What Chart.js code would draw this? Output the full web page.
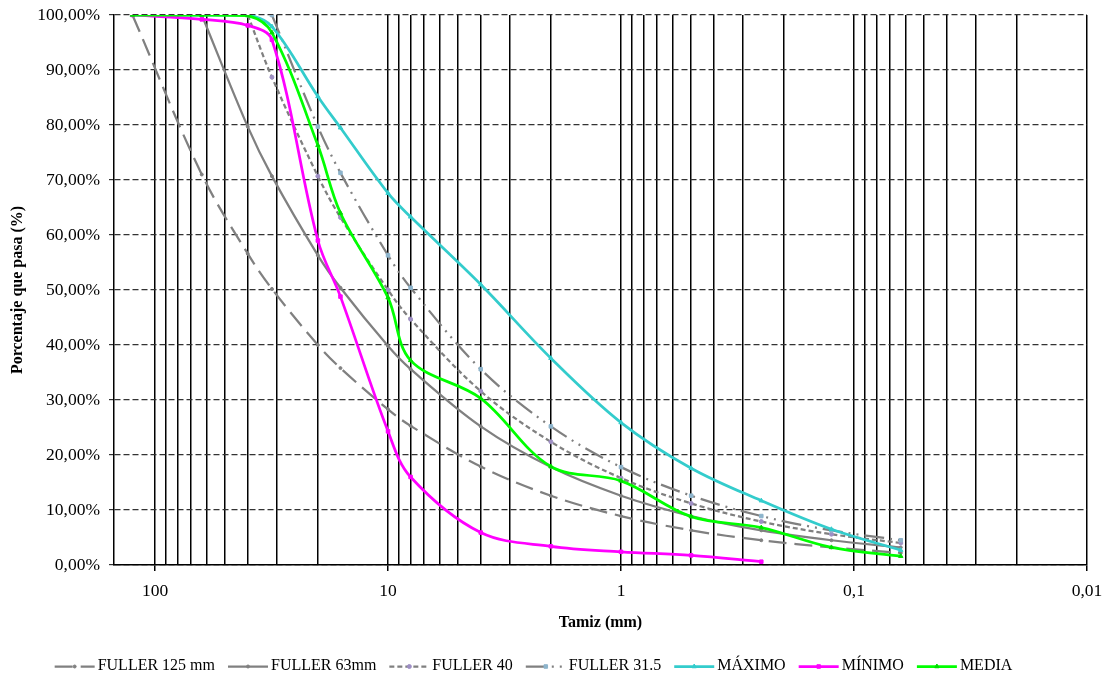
<!DOCTYPE html>
<html>
<head>
<meta charset="utf-8">
<script src="https://cdn.jsdelivr.net/npm/chart.js@4.4.1/dist/chart.umd.min.js"></script>
<style>
html,body{margin:0;padding:0;background:#fff;}
#wrap{width:1110px;height:680px;}
</style>
</head>
<body>
<div id="wrap"><canvas id="c" width="1110" height="680"></canvas></div>
<script>
// ---- data ----
const sieves     = [125, 63, 40, 31.5, 20, 16, 10, 8, 4, 2, 1, 0.5, 0.25, 0.125, 0.063];
const fuller125  = [100, 71.0, 56.6, 50.2, 40.0, 35.8, 28.3, 25.3, 17.9, 12.6, 8.9, 6.3, 4.5, 3.2, 2.2];
const fuller63   = [null, 100, 79.7, 70.7, 56.3, 50.4, 39.8, 35.6, 25.2, 17.8, 12.6, 8.9, 6.3, 4.5, 3.2];
const fuller40   = [null, null, 100, 88.7, 70.7, 63.2, 50.0, 44.7, 31.6, 22.4, 15.8, 11.2, 7.9, 5.6, 4.0];
const fuller315  = [null, null, null, 100, 79.7, 71.3, 56.3, 50.4, 35.6, 25.2, 17.8, 12.6, 8.9, 6.3, 4.5];
const maximo     = [100, 100, 100, 97.9, 85.2, 79.5, 67.6, 63.3, 51.0, 37.6, 25.9, 17.6, 11.7, 6.5, 2.7];
const minimo     = [100, 99.2, 98.1, 95.5, 59.0, 48.8, 24.3, 16.0, 5.9, 3.4, 2.4, 1.75, 0.6, null, null];
const media      = [100, 100, 99.9, 96.8, 76.3, 64.0, 48.6, 37.2, 30.3, 17.9, 15.3, 8.8, 6.8, 3.2, 1.6];

const seriesNames = ['FULLER 125 mm', 'FULLER 63mm', 'FULLER 40', 'FULLER 31.5', 'MÁXIMO', 'MÍNIMO', 'MEDIA'];

// x grid lines (log grid at every sieve-style value) and decade tick labels
const xGridValues   = [100, 90, 80, 70, 60, 50, 40, 30, 20, 10, 9, 8, 7, 6, 5, 4, 3, 2, 1,
                       0.9, 0.8, 0.7, 0.6, 0.5, 0.4, 0.3, 0.2, 0.1,
                       0.09, 0.08, 0.07, 0.06, 0.05, 0.04, 0.03, 0.02, 0.01];
const xDecadeValues = [100, 10, 1, 0.1, 0.01];
const xTickLabels   = ['100', '10', '1', '0,1', '0,01'];

const FONT = "'Liberation Serif', 'Times New Roman', serif";

function toPoints(vals) {
  const out = [];
  vals.forEach((v, i) => { if (v !== null) out.push({x: sieves[i], y: v}); });
  return out;
}
function decadeIndex(v) {
  return xDecadeValues.findIndex(d => Math.abs(d - v) < 1e-9 * Math.max(1, d));
}

const GRAY = '#808080';
const styles = [
  {data: fuller125, color: GRAY, width: 2.25, dash: [18, 8], ps: 'circle', pr: 1.5, pc: GRAY, order: 7},
  {data: fuller63,  color: GRAY, width: 2.25, dash: [], ps: 'circle', pr: 1.5, pc: GRAY, order: 6},
  {data: fuller40,  color: GRAY, width: 2.25, dash: [5, 3], ps: 'circle', pr: 2, pc: '#9E8FC4', order: 5},
  {data: fuller315, color: GRAY, width: 2.25, dash: [20, 6, 2, 6, 2, 6], ps: 'rect', pr: 2.5, pc: '#8DB4CC', order: 4},
  {data: maximo,    color: '#33CCCC', width: 2.75, dash: [], ps: 'triangle', pr: 2.5, pc: '#33CCCC', order: 3},
  {data: minimo,    color: '#FF00FF', width: 2.75, dash: [], ps: 'rect', pr: 2.5, pc: '#FF00FF', order: 2},
  {data: media,     color: '#00FF00', width: 2.75, dash: [], ps: 'triangle', pr: 2.5, pc: '#00DD00', order: 1}
];

const datasets = styles.map((s, i) => ({
  label: seriesNames[i],
  data: toPoints(s.data),
  borderColor: s.color,
  backgroundColor: s.color,
  borderWidth: s.width,
  borderDash: s.dash,
  pointStyle: s.ps,
  pointRadius: s.pr,
  pointBackgroundColor: s.pc,
  pointBorderColor: s.pc,
  pointBorderWidth: 1,
  pointHoverRadius: s.pr,
  tension: 0.35,
  fill: false,
  order: s.order
}));

// draws the legend line samples (with dash pattern) and the marker in the middle
const LEG_LINE = 40;
const legendMarkers = {
  id: 'legendMarkers',
  afterDraw(chart) {
    const lg = chart.legend;
    if (!lg || !lg.legendHitBoxes) return;
    const ctx = chart.ctx;
    lg.legendItems.forEach((item, i) => {
      const hb = lg.legendHitBoxes[i];
      const ds = chart.data.datasets[item.datasetIndex];
      const x0 = hb.left;
      const cy = Math.round(hb.top + hb.height / 2) + 0.5;
      ctx.save();
      ctx.strokeStyle = ds.borderColor;
      ctx.lineWidth = ds.borderWidth;
      ctx.setLineDash(ds.borderDash || []);
      ctx.beginPath();
      ctx.moveTo(x0, cy);
      ctx.lineTo(x0 + LEG_LINE, cy);
      ctx.stroke();
      ctx.setLineDash([]);
      ctx.fillStyle = ds.pointBackgroundColor;
      ctx.strokeStyle = ds.pointBorderColor;
      ctx.lineWidth = 1;
      Chart.helpers.drawPoint(ctx, {pointStyle: ds.pointStyle, radius: ds.pointRadius, rotation: 0, borderWidth: 1}, x0 + LEG_LINE / 2, cy);
      ctx.restore();
    });
  }
};

new Chart(document.getElementById('c'), {
  type: 'line',
  data: {datasets},
  plugins: [legendMarkers],
  options: {
    responsive: false,
    animation: false,
    devicePixelRatio: 1,
    layout: {padding: {top: 15, right: 23, left: -20, bottom: -4}},
    plugins: {
      tooltip: {enabled: false},
      legend: {
        position: 'bottom',
        labels: {
          usePointStyle: true,
          pointStyle: 'line',
          pointStyleWidth: 35,
          padding: 13,
          color: '#000',
          font: {family: FONT, size: 16},
          sort: (a, b) => a.datasetIndex - b.datasetIndex,
          generateLabels: (chart) => {
            const items = Chart.defaults.plugins.legend.labels.generateLabels(chart);
            items.forEach(it => { it.strokeStyle = 'rgba(0,0,0,0)'; it.fillStyle = 'rgba(0,0,0,0)'; it.lineWidth = 0; });
            return items;
          }
        }
      }
    },
    scales: {
      x: {
        type: 'logarithmic',
        reverse: true,
        min: 0.01,
        max: 150,
        afterBuildTicks: s => { s.ticks = xGridValues.map(v => ({value: v})); },
        afterFit: s => { s.height = 80; s.paddingLeft = 0; s.paddingRight = 0; },
        ticks: {
          autoSkip: false,
          maxRotation: 0,
          minRotation: 0,
          padding: 10,
          color: '#000',
          font: {family: FONT, size: 17.5},
          callback: (v) => { const k = decadeIndex(v); return k >= 0 ? xTickLabels[k] : ''; }
        },
        grid: {
          color: '#000',
          lineWidth: 1.5,
          drawTicks: true,
          tickLength: 6,
          tickColor: (c) => (c.tick && decadeIndex(c.tick.value) >= 0) ? '#000' : 'rgba(0,0,0,0)'
        },
        border: {display: true, color: '#000', width: 1.5},
        title: {
          display: true,
          text: 'Tamiz (mm)',
          color: '#000',
          font: {family: FONT, size: 16, weight: 'bold'},
          padding: {top: 0, bottom: 13}
        }
      },
      y: {
        min: 0,
        max: 100,
        afterFit: s => { s.width = 134; s.paddingTop = 0; s.paddingBottom = 0; },
        ticks: {
          stepSize: 10,
          padding: 9,
          color: '#000',
          font: {family: FONT, size: 17.5},
          callback: v => Number(v).toFixed(2).replace('.', ',') + '%'
        },
        grid: {
          color: '#333',
          lineWidth: 1.2,
          drawTicks: true,
          tickLength: 5,
          tickColor: '#333'
        },
        border: {display: true, color: '#000', width: 1.5, dash: [6, 3]},
        title: {
          display: true,
          text: 'Porcentaje que pasa (%)',
          color: '#000',
          font: {family: FONT, size: 16, weight: 'bold'},
          padding: {top: 28, bottom: 0}
        }
      }
    }
  }
});
</script>
</body>
</html>
